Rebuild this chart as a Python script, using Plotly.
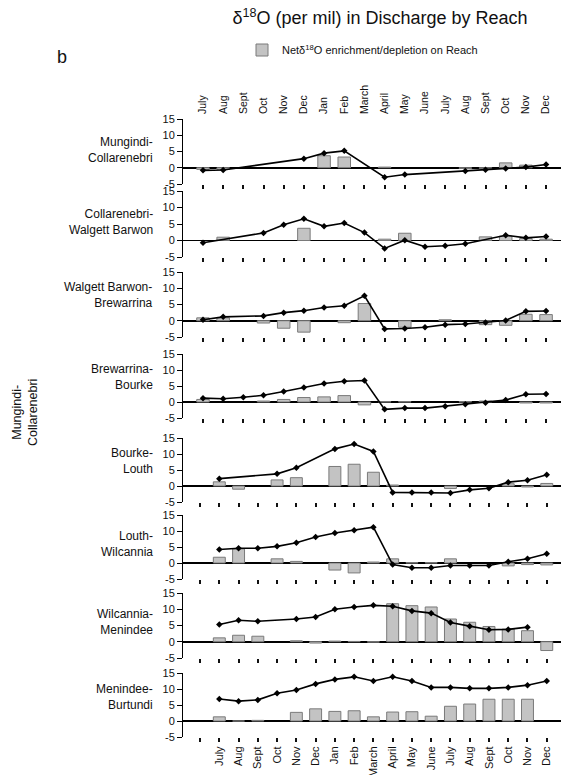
import plotly.graph_objects as go

# ---------------- data ----------------
months = ["July", "Aug", "Sept", "Oct", "Nov", "Dec", "Jan", "Feb", "March",
          "April", "May", "June", "July", "Aug", "Sept", "Oct", "Nov", "Dec"]

reaches = ["Mungindi-<br>Collarenebri", "Collarenebri-<br>Walgett Barwon",
           "Walgett Barwon-<br>Brewarrina", "Brewarrina-<br>Bourke",
           "Bourke-<br>Louth", "Louth-<br>Wilcannia",
           "Wilcannia-<br>Menindee", "Menindee-<br>Burtundi"]

# delta18O in discharge (line)
line_mungindi = [-0.8, -0.7, None, None, None, 2.8, 4.5, 5.2, None, -2.9, -2.1, None, None, -1.0, -0.6, -0.2, 0.2, 1.0]
line_collarenebri = [-0.7, None, None, 2.3, 4.8, 6.6, 4.3, 5.3, 2.4, -2.4, 0.1, -1.9, -1.6, -1.0, None, 1.6, 0.8, 1.2]
line_walgett = [0.3, 1.2, None, 1.5, 2.5, 3.1, 4.1, 4.6, 7.7, -2.5, -2.4, -2.0, -1.2, -1.0, -0.5, 0.1, 2.9, 3.0]
line_brewarrina = [1.2, 1.0, 1.5, 2.1, 3.3, 4.5, 5.8, 6.5, 6.7, -2.3, -1.9, -1.9, -1.3, -0.7, -0.2, 0.6, 2.4, 2.5]
line_bourke = [2.3, None, None, 3.8, 5.7, None, 11.6, 13.1, 10.8, -2.0, -2.0, -2.0, -2.2, -1.2, -0.7, 1.2, 1.8, 3.5]
line_louth = [4.2, 4.6, 4.6, 5.2, 6.3, 8.1, 9.4, 10.2, 11.2, -0.5, -1.5, -1.5, -0.8, -0.8, -0.8, 0.4, 1.3, 2.9]
line_wilcannia = [5.3, 6.6, 6.3, None, 7.0, 7.6, 10.0, 10.7, 11.2, 10.9, 9.5, 8.8, 5.9, 4.8, 3.7, 3.8, 4.5, None]
line_menindee = [6.9, 6.2, 6.6, 8.7, 9.7, 11.6, 13.0, 13.8, 12.5, 13.8, 12.5, 10.5, 10.5, 10.2, 10.2, 10.5, 11.2, 12.5]

# net enrichment / depletion on reach (bars)
bar_mungindi = [-0.5, -0.5, None, None, None, None, 3.7, 3.3, None, 0.2, None, None, None, -0.2, -0.2, 1.5, 0.8, None]
bar_collarenebri = [None, 1.0, None, None, None, 3.7, None, None, None, 0.4, 2.2, None, None, None, 1.1, 1.3, 0.6, 0.4]
bar_walgett = [0.9, 0.9, None, -0.7, -2.3, -3.5, None, -0.6, 5.3, None, -2.0, None, 0.3, None, -1.2, -1.4, 2.0, 1.9]
bar_brewarrina = [0.8, None, None, 0.3, 0.8, 1.4, 1.6, 2.0, -0.9, 0.1, 0.1, None, None, 0.1, 0.3, None, -0.3, -0.3]
bar_bourke = [1.3, -1.0, None, 1.9, 2.6, None, 6.1, 6.8, 4.3, 0.3, None, None, -0.8, None, None, 0.7, -0.3, 0.8]
bar_louth = [1.8, 4.4, None, 1.3, 0.5, None, -2.2, -3.1, 0.3, 1.3, 0.1, 0.1, 1.3, None, None, -0.9, -0.5, -0.6]
bar_wilcannia = [1.2, 2.0, 1.7, None, 0.3, -0.4, 0.2, 0.1, -0.1, 11.7, 11.1, 10.7, 7.0, 6.0, 4.7, 3.9, 3.4, -2.7]
bar_menindee = [1.3, 0.0, 0.2, None, 2.7, 3.8, 3.0, 3.2, 1.3, 2.8, 2.9, 1.5, 4.6, 5.3, 6.8, 6.8, 6.8, None]

lines = [line_mungindi, line_collarenebri, line_walgett, line_brewarrina,
         line_bourke, line_louth, line_wilcannia, line_menindee]
bars = [bar_mungindi, bar_collarenebri, bar_walgett, bar_brewarrina,
        bar_bourke, bar_louth, bar_wilcannia, bar_menindee]

y_ticks = [-5, 0, 5, 10, 15]
y_ticktext = ["-5", "0", "5", "10", "15"]

# ---------------- layout geometry ----------------
W, H = 561, 775
FONT = "Arial, Liberation Sans, sans-serif"
panel_px = [(119, 184), (191, 257), (272, 337), (354, 418),
            (438, 502), (515, 579), (593, 658), (673, 737)]
label_y = [5.6, 5.6, 7.8, 7.8, 7.8, 5.8, 6.2, 7.5]
x_left = 183 / W
range_upper = [-0.99, 17.74]
range_lower = [-1.885, 17.74]

pos = list(range(len(months)))
legend_name = "Netδ<sup>18</sup>O enrichment/depletion on Reach"

fig = go.Figure()
layout_axes = {}
annotations = []

for i in range(8):
    n = "" if i == 0 else str(i + 1)
    xa, ya = "x" + n, "y" + n
    fig.add_trace(go.Bar(
        x=pos, y=bars[i], xaxis=xa, yaxis=ya, width=0.62,
        marker=dict(color="#c3c3c3", line=dict(color="#7a7a7a", width=1)),
        name=legend_name, legendgroup="net", showlegend=(i == 0),
        hoverinfo="skip"))
    fig.add_trace(go.Scatter(
        x=pos, y=lines[i], xaxis=xa, yaxis=ya, mode="lines+markers",
        connectgaps=True, line=dict(color="black", width=1.6),
        marker=dict(symbol="diamond", size=5, color="black"),
        showlegend=False, hoverinfo="skip"))

    lower = i >= 4
    t, b = panel_px[i]
    xaxis = dict(
        domain=[x_left, 1], range=range_lower if lower else range_upper,
        anchor=ya, tickmode="array", tickvals=pos, ticktext=months,
        showticklabels=(i == 7),
        ticks="outside", ticklen=4, tickwidth=2, tickcolor="#111",
        showline=False, showgrid=False, zeroline=False, tickangle=-90,
        tickfont=dict(size=11, family=FONT, color="#111"), fixedrange=True)
    if lower:
        xaxis["minor"] = dict(tickmode="array", tickvals=[-1], ticks="outside",
                              ticklen=4, tickwidth=2, tickcolor="#111",
                              showgrid=False)
    layout_axes["xaxis" + n] = xaxis
    layout_axes["yaxis" + n] = dict(
        domain=[1 - b / H, 1 - t / H], range=[-5, 15], anchor=xa,
        tickmode="array", tickvals=y_ticks, ticktext=y_ticktext,
        ticks="outside", ticklen=5,
        tickwidth=1, tickcolor="black", showline=True, linecolor="black",
        linewidth=1, zeroline=True, zerolinecolor="black", zerolinewidth=1.5,
        showgrid=False, tickfont=dict(size=11, family=FONT, color="#111"),
        fixedrange=True)
    annotations.append(dict(
        text=reaches[i], xref="paper", x=155 / W, xanchor="right",
        yref=ya, y=label_y[i], yanchor="middle", align="right",
        showarrow=False, font=dict(size=12, family=FONT, color="#111")))

# top month labels (companion axis for the first panel)
fig.add_trace(go.Scatter(x=pos, y=[None] * len(pos), xaxis="x9", yaxis="y",
                         mode="lines", showlegend=False, hoverinfo="skip"))
layout_axes["xaxis9"] = dict(
    overlaying="x", side="top", anchor="y", range=range_upper,
    tickmode="array", tickvals=pos, ticktext=months, ticks="",
    showline=False, showgrid=False,
    zeroline=False, tickangle=-90, ticklabelstandoff=4,
    tickfont=dict(size=10.5, family=FONT, color="#111"), fixedrange=True)

annotations += [
    dict(text="b", xref="paper", yref="paper", x=62 / W, y=1 - 57 / H,
         xanchor="center", yanchor="middle", showarrow=False,
         font=dict(size=18, family=FONT, color="#111")),
    dict(text="Mungindi-<br>Collarenebri", xref="paper", yref="paper",
         x=25 / W, y=1 - 413 / H, xanchor="center", yanchor="middle",
         textangle=-90, showarrow=False,
         font=dict(size=12.5, family=FONT, color="#111")),
]

fig.update_layout(
    width=W, height=H, template="none",
    margin=dict(l=0, r=0, t=0, b=0, pad=0),
    paper_bgcolor="white", plot_bgcolor="rgba(0,0,0,0)",
    font=dict(family=FONT, color="#111"),
    barmode="overlay",
    title=dict(text="δ<sup>18</sup>O (per mil) in Discharge by Reach",
               x=380 / W, xanchor="center", y=1 - 18 / H, yanchor="middle",
               yref="container", xref="paper",
               font=dict(size=18, family=FONT, color="#111")),
    showlegend=True,
    legend=dict(x=242 / W, xanchor="left", y=1 - 50 / H, yanchor="middle",
                bgcolor="rgba(0,0,0,0)", borderwidth=0,
                font=dict(size=11, family=FONT, color="#111")),
    annotations=annotations,
    **layout_axes,
)

fig.write_html("out.html",
               config={"displayModeBar": False, "staticPlot": True},
               post_script="document.body.style.margin='0';"
                           "document.body.style.overflow='hidden';")
